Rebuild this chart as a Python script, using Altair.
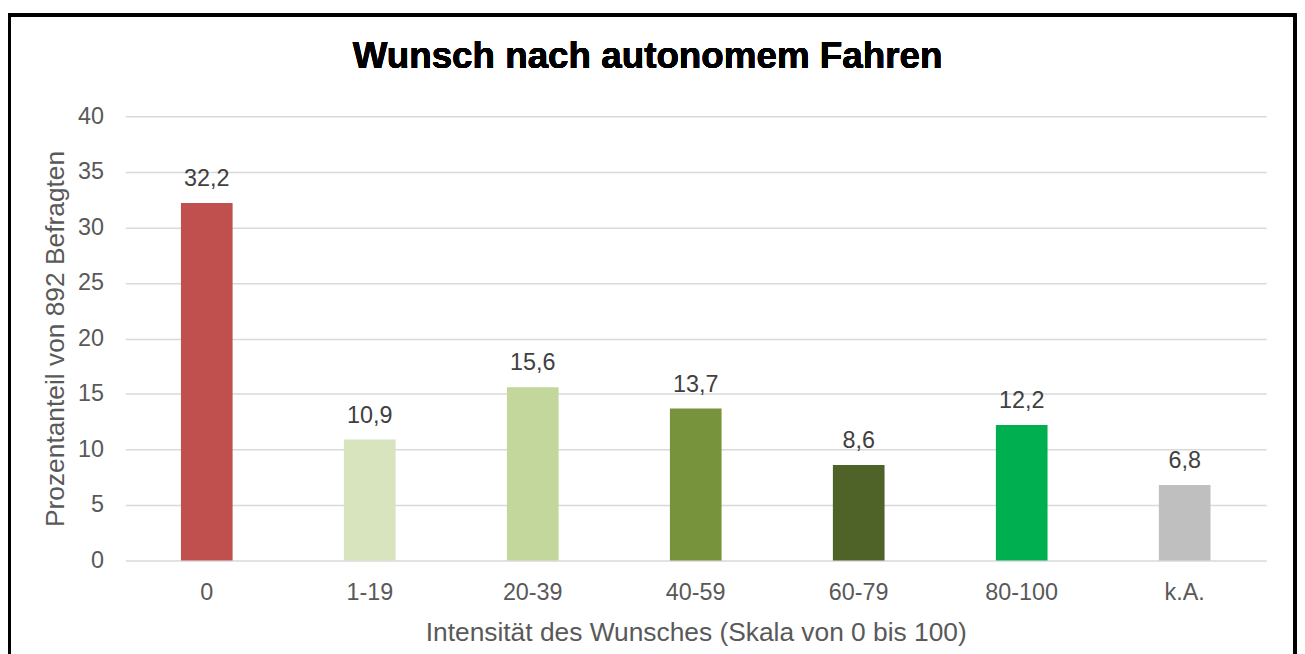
import altair as alt
import pandas as pd

categories = ["0", "1-19", "20-39", "40-59", "60-79", "80-100", "k.A."]
values = [32.2, 10.9, 15.6, 13.7, 8.6, 12.2, 6.8]
colors = ["#C0504D", "#D7E4BD", "#C3D69B", "#77933C", "#4F6228", "#00B050", "#BFBFBF"]
y_ticks = [0, 5, 10, 15, 20, 25, 30, 35, 40]

df = pd.DataFrame({"cat": categories, "val": values, "col": colors})

FONT = "Liberation Sans"

x_enc = alt.X("cat:N", sort=categories,
              scale=alt.Scale(paddingInner=0.683, paddingOuter=0.3415),
              axis=alt.Axis(title="Intensität des Wunsches (Skala von 0 bis 100)",
                            labelAngle=0, labelPadding=20, ticks=False, domain=False,
                            labelFontSize=23.5, labelColor="#595959", labelFont=FONT,
                            titleFontSize=26.5, titleColor="#595959", titleFont=FONT,
                            titleFontWeight="normal", titlePadding=16, grid=False))
y_enc = alt.Y("val:Q", scale=alt.Scale(domain=[0, 40], nice=False),
              axis=alt.Axis(values=y_ticks, title="Prozentanteil von 892 Befragten",
                            ticks=False, domain=False, labelPadding=22,
                            labelFontSize=23.5, labelColor="#595959", labelFont=FONT,
                            titleFontSize=26.5, titleColor="#595959", titleFont=FONT,
                            titleFontWeight="normal", titlePadding=8,
                            gridColor="#D9D9D9", gridWidth=1.5))

bars = alt.Chart(df).mark_bar().encode(
    x=x_enc, y=y_enc,
    color=alt.Color("col:N", scale=None),
)

labels = alt.Chart(df).transform_calculate(
    lab="replace(format(datum.val, '.1f'), '.', ',')"
).mark_text(dy=-12, baseline="bottom", fontSize=23.5, font=FONT, color="#404040").encode(
    x=alt.X("cat:N", sort=categories), y="val:Q", text="lab:N"
)

title = alt.Chart(df).mark_text(
    text="Wunsch nach autonomem Fahren", fontSize=37, fontWeight="bold",
    font=FONT, color="#000000", baseline="middle", align="center"
).encode(x=alt.value(525.5), y=alt.value(-60))

border = alt.Chart(df).mark_rect(fill=None, stroke="#000000", strokeWidth=3).encode(
    x=alt.value(-116.5), x2=alt.value(1177), y=alt.value(-102), y2=alt.value(560)
)

chart = alt.layer(bars, labels, title, border).properties(
    width=1148, height=447,
    autosize=alt.AutoSizeParams(type="none"),
    padding={"left": 118, "top": 107, "right": 31, "bottom": 92},
).configure_view(stroke=None)

chart.save("out.html", embed_options={"renderer": "svg", "actions": False})
